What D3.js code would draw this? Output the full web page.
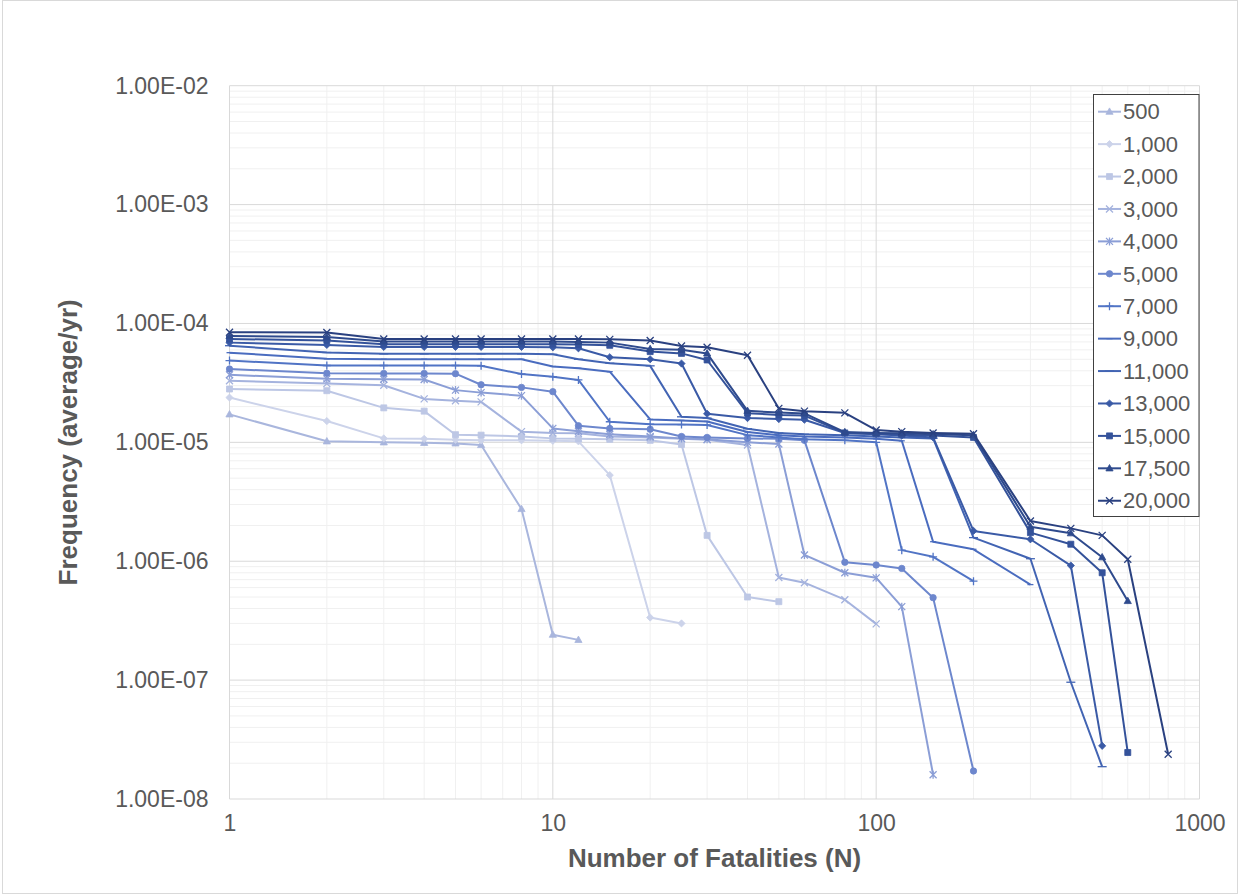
<!DOCTYPE html>
<html>
<head>
<meta charset="utf-8">
<script src="https://cdn.jsdelivr.net/npm/d3@7"></script>
<style>
  body { margin: 0; background: #fff; }
  svg { display: block; font-family: "Liberation Sans", Arial, sans-serif; }
</style>
</head>
<body>
<div id="chart"></div>
<script>
// number of fatalities (x)
const fatalities = [1, 2, 3, 4, 5, 6, 8, 10, 12, 15, 20, 25, 30, 40, 50, 60, 80, 100, 120, 150, 200, 300, 400, 500, 600, 800];

// frequencies per series (each series stops where its curve ends)
const f500 = [1.72e-5, 1.02e-5, 1.00e-5, 0.99e-5, 0.98e-5, 0.95e-5, 2.75e-6, 2.41e-7, 2.18e-7];
const f1000 = [2.38e-5, 1.51e-5, 1.08e-5, 1.07e-5, 1.05e-5, 1.04e-5, 1.04e-5, 1.03e-5, 1.02e-5, 5.3e-6, 3.36e-7, 3.0e-7];
const f2000 = [2.81e-5, 2.72e-5, 1.95e-5, 1.83e-5, 1.16e-5, 1.15e-5, 1.12e-5, 1.08e-5, 1.07e-5, 1.06e-5, 1.04e-5, 9.6e-6, 1.65e-6, 5.0e-7, 4.57e-7];
const f3000 = [3.3e-5, 3.12e-5, 3.02e-5, 2.32e-5, 2.24e-5, 2.19e-5, 1.23e-5, 1.2e-5, 1.19e-5, 1.12e-5, 1.1e-5, 1.07e-5, 1.05e-5, 9.5e-6, 7.3e-7, 6.6e-7, 4.75e-7, 2.97e-7];
const f4000 = [3.7e-5, 3.42e-5, 3.4e-5, 3.38e-5, 2.75e-5, 2.62e-5, 2.47e-5, 1.31e-5, 1.24e-5, 1.17e-5, 1.12e-5, 1.08e-5, 1.06e-5, 1.0e-5, 9.7e-6, 1.13e-6, 8.0e-7, 7.25e-7, 4.15e-7, 1.6e-8];
const f5000 = [4.14e-5, 3.81e-5, 3.8e-5, 3.8e-5, 3.78e-5, 3.05e-5, 2.9e-5, 2.67e-5, 1.38e-5, 1.31e-5, 1.29e-5, 1.12e-5, 1.1e-5, 1.08e-5, 1.07e-5, 1.04e-5, 9.8e-7, 9.3e-7, 8.7e-7, 4.94e-7, 1.72e-8];
const f7000 = [4.87e-5, 4.43e-5, 4.43e-5, 4.43e-5, 4.43e-5, 4.4e-5, 3.76e-5, 3.57e-5, 3.35e-5, 1.49e-5, 1.42e-5, 1.41e-5, 1.4e-5, 1.15e-5, 1.1e-5, 1.06e-5, 1.04e-5, 1.0e-5, 1.24e-6, 1.09e-6, 6.8e-7];
const f9000 = [5.68e-5, 5.05e-5, 5.0e-5, 5.0e-5, 5.0e-5, 5.0e-5, 5.0e-5, 4.35e-5, 4.2e-5, 3.93e-5, 1.56e-5, 1.53e-5, 1.5e-5, 1.22e-5, 1.15e-5, 1.12e-5, 1.1e-5, 1.07e-5, 1.03e-5, 1.46e-6, 1.26e-6, 6.36e-7];
const f11000 = [6.5e-5, 5.7e-5, 5.55e-5, 5.55e-5, 5.55e-5, 5.55e-5, 5.55e-5, 5.5e-5, 5.0e-5, 4.63e-5, 4.4e-5, 1.64e-5, 1.6e-5, 1.3e-5, 1.2e-5, 1.17e-5, 1.15e-5, 1.12e-5, 1.1e-5, 1.08e-5, 1.58e-6, 1.05e-6, 9.6e-8, 1.87e-8];
const f13000 = [6.9e-5, 6.6e-5, 6.35e-5, 6.35e-5, 6.35e-5, 6.35e-5, 6.35e-5, 6.3e-5, 6.18e-5, 5.2e-5, 5.0e-5, 4.6e-5, 1.74e-5, 1.6e-5, 1.57e-5, 1.55e-5, 1.2e-5, 1.17e-5, 1.14e-5, 1.1e-5, 1.8e-6, 1.53e-6, 9.2e-7, 2.8e-8];
const f15000 = [7.4e-5, 7.2e-5, 6.7e-5, 6.7e-5, 6.7e-5, 6.7e-5, 6.7e-5, 6.7e-5, 6.65e-5, 6.55e-5, 5.8e-5, 5.6e-5, 4.93e-5, 1.76e-5, 1.7e-5, 1.68e-5, 1.2e-5, 1.18e-5, 1.16e-5, 1.14e-5, 1.1e-5, 1.74e-6, 1.39e-6, 8.0e-7, 2.46e-8];
const f17500 = [7.85e-5, 7.7e-5, 7.05e-5, 7.05e-5, 7.05e-5, 7.05e-5, 7.05e-5, 7.05e-5, 7.0e-5, 6.9e-5, 6.1e-5, 6.0e-5, 5.6e-5, 1.84e-5, 1.78e-5, 1.75e-5, 1.22e-5, 1.2e-5, 1.19e-5, 1.17e-5, 1.15e-5, 1.95e-6, 1.72e-6, 1.08e-6, 4.63e-7];
const f20000 = [8.43e-5, 8.4e-5, 7.4e-5, 7.4e-5, 7.4e-5, 7.4e-5, 7.4e-5, 7.4e-5, 7.4e-5, 7.35e-5, 7.2e-5, 6.47e-5, 6.3e-5, 5.4e-5, 1.93e-5, 1.83e-5, 1.77e-5, 1.27e-5, 1.23e-5, 1.2e-5, 1.18e-5, 2.18e-6, 1.89e-6, 1.65e-6, 1.04e-6, 2.38e-8];

const seriesNames = ["500", "1,000", "2,000", "3,000", "4,000", "5,000", "7,000", "9,000", "11,000", "13,000", "15,000", "17,500", "20,000"];
const seriesValues = [f500, f1000, f2000, f3000, f4000, f5000, f7000, f9000, f11000, f13000, f15000, f17500, f20000];
const seriesColors = ["#a9b6dd", "#ccd3ea", "#bdc7e5", "#a5b3de", "#8b9ed6", "#6d87cd", "#5174c5", "#4a6cbf", "#4264b3", "#3a5aa6", "#34529a", "#2e4a8d", "#2a4180"];
const seriesMarkers = ["triangle", "diamond", "square", "x", "star", "circle", "plus", "dash", "longdash", "diamond", "square", "triangle", "x"];

const xTicks = [1, 10, 100, 1000];
const yTicks = [1e-8, 1e-7, 1e-6, 1e-5, 1e-4, 1e-3, 1e-2];

// zone du graphique
const W = 1241, H = 896;
const plot = { left: 229.5, top: 85.7, right: 1199.5, bottom: 799 };

const svg = d3.select("#chart").append("svg")
    .attr("width", W)
    .attr("height", H);

svg.append("rect")
    .attr("x", 2.5).attr("y", 0.5)
    .attr("width", 1235).attr("height", 893)
    .attr("fill", "#fff")
    .attr("stroke", "#d9d9d9");

const x = d3.scaleLog().domain([1, 1000]).range([plot.left, plot.right]);
const y = d3.scaleLog().domain([1e-8, 1e-2]).range([plot.bottom, plot.top]);

// grille mineure puis majeure
const minorX = [], minorY = [];
for (let d = 1; d < 1000; d *= 10) for (let k = 2; k <= 9; k++) minorX.push(d * k);
for (let d = 1e-8; d < 1e-2 * 0.99; d *= 10) for (let k = 2; k <= 9; k++) minorY.push(d * k);

const grid = svg.append("g");
grid.selectAll(".mx").data(minorX).join("line")
    .attr("x1", d => x(d)).attr("x2", d => x(d))
    .attr("y1", plot.top).attr("y2", plot.bottom)
    .attr("stroke", "#f0f0f0").attr("stroke-width", 1);
grid.selectAll(".my").data(minorY).join("line")
    .attr("x1", plot.left).attr("x2", plot.right)
    .attr("y1", d => y(d)).attr("y2", d => y(d))
    .attr("stroke", "#f0f0f0").attr("stroke-width", 1);
grid.selectAll(".Mx").data(xTicks).join("line")
    .attr("x1", d => x(d)).attr("x2", d => x(d))
    .attr("y1", plot.top).attr("y2", plot.bottom)
    .attr("stroke", "#d9d9d9").attr("stroke-width", 1);
grid.selectAll(".My").data(yTicks).join("line")
    .attr("x1", plot.left).attr("x2", plot.right)
    .attr("y1", d => y(d)).attr("y2", d => y(d))
    .attr("stroke", "#d9d9d9").attr("stroke-width", 1);

// axes (only labels, no domain lines)
function sci(d) {
    const e = Math.round(Math.log10(d));
    return "1.00E" + (e < 0 ? "-" : "+") + String(Math.abs(e)).padStart(2, "0");
}

const yAxis = svg.append("g")
    .attr("transform", "translate(" + plot.left + ",0)")
    .call(d3.axisLeft(y).tickValues(yTicks).tickFormat(sci).tickSize(0).tickPadding(21));
const xAxis = svg.append("g")
    .attr("transform", "translate(0," + plot.bottom + ")")
    .call(d3.axisBottom(x).tickValues(xTicks).tickFormat(d3.format("d")).tickSize(0).tickPadding(16));
[yAxis, xAxis].forEach(a => {
    a.select(".domain").remove();
    a.selectAll("text")
        .attr("fill", "#595959")
        .style("font-size", "23px")
        .style("font-family", "'Liberation Sans', Arial, sans-serif");
});

svg.append("text")
    .attr("x", (plot.left + plot.right) / 2)
    .attr("y", 867)
    .attr("text-anchor", "middle")
    .attr("fill", "#595959")
    .attr("font-weight", "bold")
    .attr("font-size", 26)
    .text("Number of Fatalities (N)");

svg.append("text")
    .attr("transform", "translate(77," + (plot.top + plot.bottom) / 2 + ") rotate(-90)")
    .attr("text-anchor", "middle")
    .attr("fill", "#595959")
    .attr("font-weight", "bold")
    .attr("font-size", 26)
    .text("Frequency (average/yr)");

// formes des marqueurs
function markerPath(type) {
    switch (type) {
        case "triangle": return "M0,-3.8L3.6,2.6L-3.6,2.6Z";
        case "diamond": return "M0,-3.6L3.6,0L0,3.6L-3.6,0Z";
        case "square": return "M-3,-3H3V3H-3Z";
        case "circle": return "M3.2,0A3.2,3.2 0 1,1 -3.2,0A3.2,3.2 0 1,1 3.2,0Z";
        case "x": return "M-3.5,-3.5L3.5,3.5M-3.5,3.5L3.5,-3.5";
        case "star": return "M-3.5,-3.5L3.5,3.5M-3.5,3.5L3.5,-3.5M0,-4V4";
        case "plus": return "M-4,0H4M0,-4V4";
        case "dash": return "M-3,0H3";
        case "longdash": return "M-4.5,0H4.5";
    }
}
const filled = t => ["triangle", "diamond", "square", "circle"].includes(t);

const line = d3.line()
    .x(d => x(d[0]))
    .y(d => y(d[1]));

const series = seriesNames.map((name, i) => ({
    name: name,
    color: seriesColors[i],
    marker: seriesMarkers[i],
    points: seriesValues[i].map((v, j) => [fatalities[j], v])
}));

const marks = svg.append("g");
series.forEach(s => {
    const g = marks.append("g");
    g.append("path")
        .datum(s.points)
        .attr("d", line)
        .attr("fill", "none")
        .attr("stroke", s.color)
        .attr("stroke-width", 2)
        .attr("stroke-linejoin", "round");
    g.selectAll("path.m").data(s.points).join("path")
        .attr("class", "m")
        .attr("transform", d => "translate(" + x(d[0]) + "," + y(d[1]) + ")")
        .attr("d", markerPath(s.marker))
        .attr("fill", filled(s.marker) ? s.color : "none")
        .attr("stroke", s.color)
        .attr("stroke-width", filled(s.marker) ? 0.8 : 1.3);
});

// légende
const legend = svg.append("g");
legend.append("rect")
    .attr("x", 1093.5).attr("y", 94.5)
    .attr("width", 105.5).attr("height", 422)
    .attr("fill", "#fff")
    .attr("stroke", "#404040")
    .attr("stroke-width", 1);

const item = legend.selectAll("g.item").data(series).join("g")
    .attr("class", "item")
    .attr("transform", (d, i) => "translate(0," + (111.7 + i * 32.42) + ")");
item.append("line")
    .attr("x1", 1098).attr("x2", 1121)
    .attr("stroke", d => d.color).attr("stroke-width", 2);
item.append("path")
    .attr("transform", "translate(1109.5,0)")
    .attr("d", d => markerPath(d.marker))
    .attr("fill", d => filled(d.marker) ? d.color : "none")
    .attr("stroke", d => d.color)
    .attr("stroke-width", d => filled(d.marker) ? 0.8 : 1.3);
item.append("text")
    .attr("x", 1123)
    .attr("dy", "0.35em")
    .attr("fill", "#595959")
    .attr("font-size", 22)
    .text(d => d.name);
</script>
</body>
</html>
